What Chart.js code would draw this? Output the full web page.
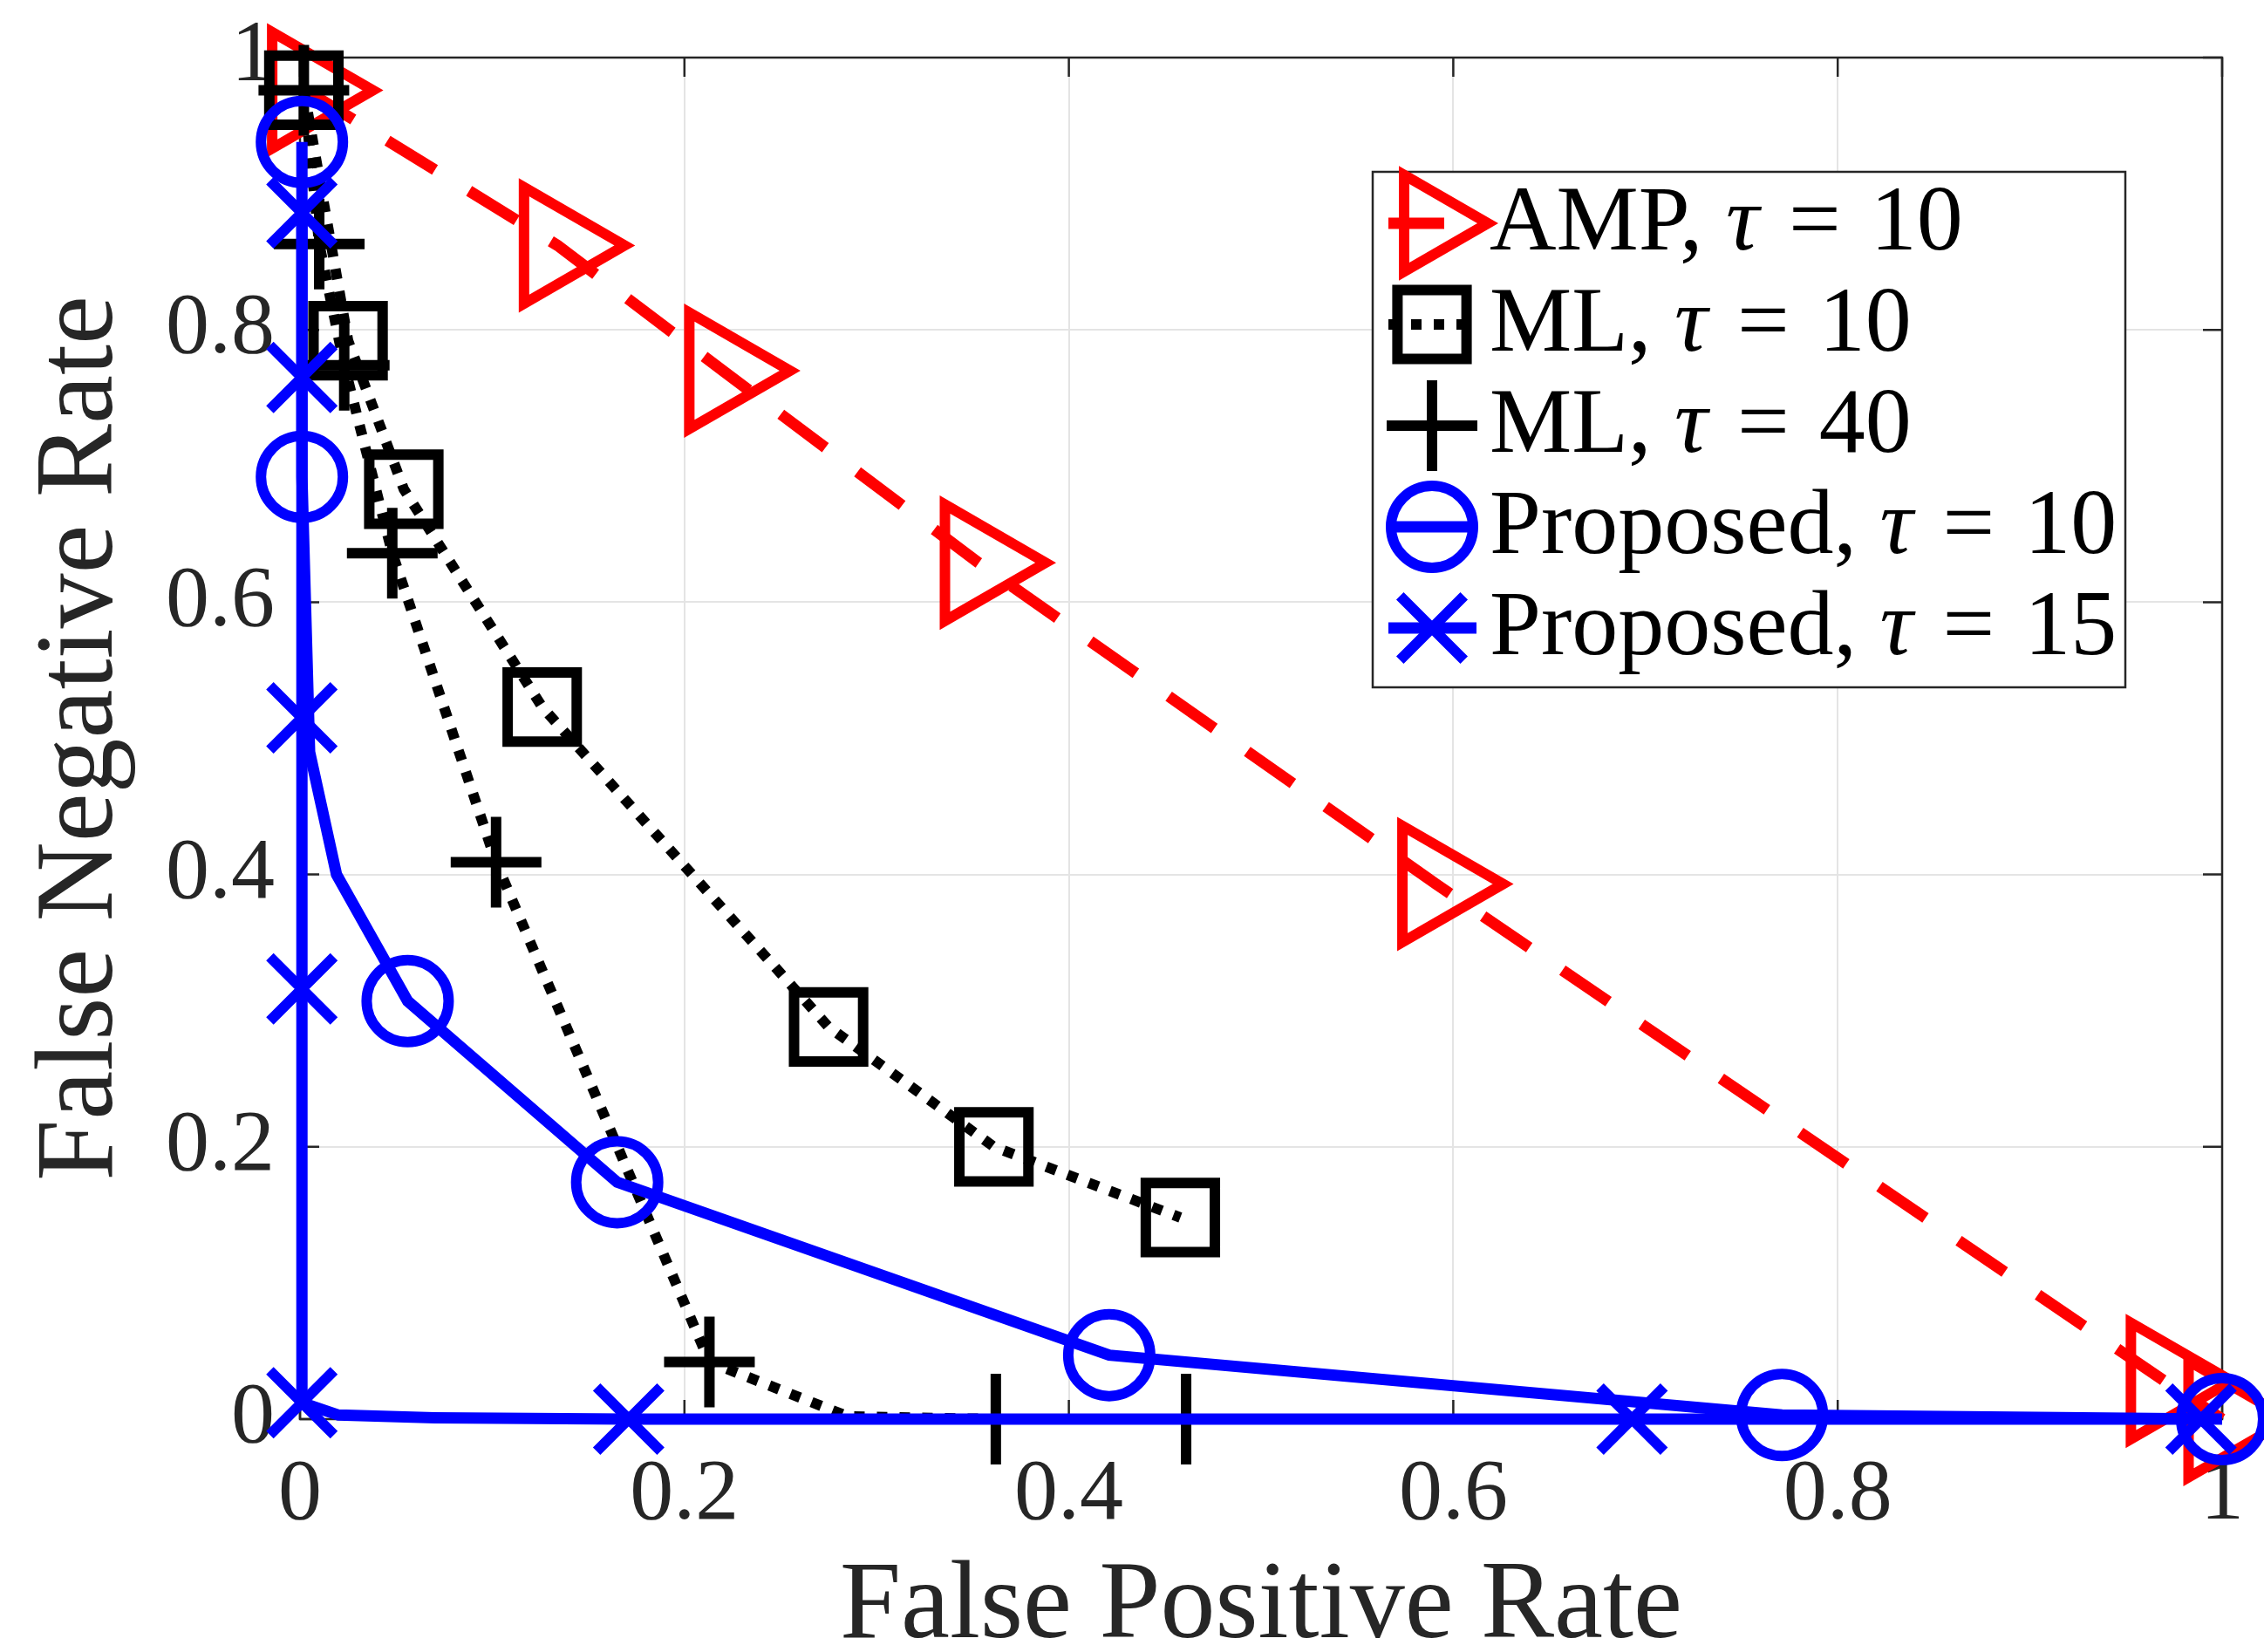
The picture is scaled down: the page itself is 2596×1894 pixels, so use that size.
<!DOCTYPE html>
<html>
<head>
<meta charset="utf-8">
<script src="https://cdn.jsdelivr.net/npm/chart.js@4/dist/chart.umd.min.js"></script>
<style>
  html, body { margin: 0; padding: 0; background: #fff; }
  canvas { display: block; }
</style>
</head>
<body>
<canvas id="rocChart" width="2596" height="1894" style="width:2596px;height:1894px"></canvas>
<script>
// values: x = false positive rate, y = false negative rate
var ampFpr = [0.003, 0.134, 0.220, 0.353, 0.591, 0.970, 1.0];
var ampFnr = [0.976, 0.862, 0.770, 0.629, 0.393, 0.028, 0.0];

var ml10Fpr = [0.002, 0.025, 0.054, 0.126, 0.275, 0.361, 0.458];
var ml10Fnr = [0.976, 0.792, 0.683, 0.523, 0.288, 0.200, 0.148];

var ml40Fpr = [0.002, 0.010, 0.023, 0.048, 0.102, 0.213, 0.285, 0.362, 0.461];
var ml40Fnr = [0.976, 0.863, 0.774, 0.636, 0.409, 0.042, 0.002, 0.0, 0.0];
var ml40Marked = [0, 1, 2, 3, 4, 5, 7, 8];

var prop10Fpr = [0.001, 0.001, 0.005, 0.019, 0.056, 0.165, 0.421, 0.771, 1.0];
var prop10Fnr = [0.938, 0.692, 0.490, 0.400, 0.307, 0.174, 0.047, 0.003, 0.0];
var prop10Marked = [0, 1, 4, 5, 6, 7, 8];

var prop15Fpr = [0.001, 0.001, 0.001, 0.001, 0.001, 0.020, 0.070, 0.171, 0.693, 0.989];
var prop15Fnr = [0.886, 0.765, 0.515, 0.316, 0.012, 0.003, 0.001, 0.0, 0.0, 0.0];
var prop15Marked = [0, 1, 2, 3, 4, 7, 8, 9];

var seriesNames = ['AMP', 'ML', 'ML', 'Proposed', 'Proposed'];
var seriesTau = [10, 10, 40, 10, 15];

var xTickLabels = ['0', '0.2', '0.4', '0.6', '0.8', '1'];
var yTickLabels = ['0', '0.2', '0.4', '0.6', '0.8', '1'];

var FONT = '"Liberation Serif", "Times New Roman", serif';
var CLEAR = 'rgba(0,0,0,0)';

function toPoints(xs, ys) {
  return xs.map(function (x, i) { return { x: x, y: ys[i] }; });
}

function markedRadius(list, r) {
  return function (c) {
    if (!list) return r;
    return list.indexOf(c.dataIndex) >= 0 ? r : 0;
  };
}

// keep the plot box where the figure has it, labels may hang out
function noOverhang(scale) {
  scale.paddingTop = 0;
  scale.paddingBottom = 0;
  scale.paddingLeft = 0;
  scale.paddingRight = 0;
}

// matlab style box with inward ticks
var axesBox = {
  id: 'axesBox',
  beforeDatasetsDraw: function (chart) {
    var a = chart.chartArea, ctx = chart.ctx;
    var xs = chart.scales.x, ys = chart.scales.y;
    ctx.save();
    ctx.strokeStyle = '#262626';
    ctx.lineWidth = 2.5;
    ctx.strokeRect(a.left, a.top, a.right - a.left, a.bottom - a.top);
    ctx.beginPath();
    xs.ticks.forEach(function (t) {
      var p = xs.getPixelForValue(t.value);
      ctx.moveTo(p, a.bottom); ctx.lineTo(p, a.bottom - 22);
      ctx.moveTo(p, a.top); ctx.lineTo(p, a.top + 22);
    });
    ys.ticks.forEach(function (t) {
      var p = ys.getPixelForValue(t.value);
      ctx.moveTo(a.left, p); ctx.lineTo(a.left + 22, p);
      ctx.moveTo(a.right, p); ctx.lineTo(a.right - 22, p);
    });
    ctx.stroke();
    ctx.restore();
  }
};

var boxLegend = {
  id: 'boxLegend',
  afterDraw: function (chart) {
    var ctx = chart.ctx;
    var left = 1574, top = 197, w = 863, h = 591;
    ctx.save();
    ctx.fillStyle = '#fff';
    ctx.fillRect(left, top, w, h);
    ctx.strokeStyle = '#262626';
    ctx.lineWidth = 2.5;
    ctx.strokeRect(left, top, w, h);

    chart.data.datasets.forEach(function (ds, i) {
      var y = 256 + i * 116;
      var mx = 1642;
      ctx.setLineDash(ds.borderDash || []);
      ctx.lineDashOffset = 0;
      ctx.strokeStyle = ds.borderColor;
      ctx.lineWidth = ds.borderWidth;
      ctx.lineCap = 'butt';
      ctx.beginPath();
      ctx.moveTo(1592, y);
      ctx.lineTo(1693, y);
      ctx.stroke();

      ctx.setLineDash([]);
      ctx.lineWidth = ds.pointBorderWidth;
      ctx.fillStyle = CLEAR;
      Chart.helpers.drawPoint(ctx, {
        pointStyle: ds.pointStyle,
        rotation: ds.pointRotation || 0,
        radius: ds.legendRadius,
        borderWidth: ds.pointBorderWidth
      }, mx, y);

      var tx = 1708, ty = y + 30;
      ctx.fillStyle = '#000';
      ctx.textBaseline = 'alphabetic';
      ctx.textAlign = 'left';
      ctx.font = '106px ' + FONT;
      var s1 = seriesNames[i] + ', ';
      ctx.fillText(s1, tx, ty);
      tx += ctx.measureText(s1).width;
      ctx.font = 'italic 106px ' + FONT;
      ctx.fillText('\u03c4', tx, ty);
      tx += ctx.measureText('\u03c4').width + 34;
      ctx.font = '106px ' + FONT;
      ctx.fillText('=', tx, ty);
      tx += ctx.measureText('=').width + 34;
      ctx.fillText(String(seriesTau[i]), tx, ty);
    });
    ctx.restore();
  }
};

var ctx = document.getElementById('rocChart');
var rocChart = new Chart(ctx, {
  type: 'line',
  data: {
    datasets: [{
      label: 'AMP, tau = 10',
      data: toPoints(ampFpr, ampFnr),
      borderColor: '#ff0000',
      borderWidth: 13,
      borderDash: [64, 46],
      pointStyle: 'triangle',
      pointRotation: 90,
      pointRadius: markedRadius(null, 77),
      legendRadius: 64,
      pointBorderWidth: 12,
      pointBorderColor: '#ff0000',
      pointBackgroundColor: CLEAR,
      order: 5
    }, {
      label: 'ML, tau = 10',
      data: toPoints(ml10Fpr, ml10Fnr),
      borderColor: '#000000',
      borderWidth: 12,
      borderDash: [12, 14],
      pointStyle: 'rect',
      pointRadius: markedRadius(null, 56),
      legendRadius: 56,
      pointBorderWidth: 12,
      pointBorderColor: '#000000',
      pointBackgroundColor: CLEAR,
      order: 4
    }, {
      label: 'ML, tau = 40',
      data: toPoints(ml40Fpr, ml40Fnr),
      borderColor: '#000000',
      borderWidth: 12,
      borderDash: [12, 14],
      pointStyle: 'cross',
      pointRadius: markedRadius(ml40Marked, 52),
      legendRadius: 52,
      pointBorderWidth: 12,
      pointBorderColor: '#000000',
      pointBackgroundColor: CLEAR,
      order: 3
    }, {
      label: 'Proposed, tau = 10',
      data: toPoints(prop10Fpr, prop10Fnr),
      borderColor: '#0000ff',
      borderWidth: 13,
      pointStyle: 'circle',
      pointRadius: markedRadius(prop10Marked, 47),
      legendRadius: 47,
      pointBorderWidth: 12,
      pointBorderColor: '#0000ff',
      pointBackgroundColor: CLEAR,
      order: 2
    }, {
      label: 'Proposed, tau = 15',
      data: toPoints(prop15Fpr, prop15Fnr),
      borderColor: '#0000ff',
      borderWidth: 13,
      pointStyle: 'crossRot',
      pointRadius: markedRadius(prop15Marked, 52),
      legendRadius: 52,
      pointBorderWidth: 12,
      pointBorderColor: '#0000ff',
      pointBackgroundColor: CLEAR,
      order: 1
    }].map(function (d) {
      d.fill = false;
      d.tension = 0;
      d.clip = false;
      d.pointHoverRadius = d.pointRadius;
      return d;
    })
  },
  options: {
    responsive: false,
    animation: false,
    devicePixelRatio: 1,
    events: [],
    layout: { autoPadding: false, padding: { left: 0, right: 48, top: 66, bottom: 0 } },
    plugins: {
      legend: { display: false },
      tooltip: { enabled: false }
    },
    scales: {
      x: {
        type: 'linear',
        min: 0,
        max: 1,
        border: { display: false },
        grid: { color: '#e4e4e4', lineWidth: 2, drawTicks: false },
        ticks: {
          stepSize: 0.2,
          autoSkip: false,
          maxRotation: 0,
          padding: 28,
          color: '#262626',
          font: { family: FONT, size: 100 },
          callback: function (v, i) { return xTickLabels[i]; }
        },
        title: {
          display: true,
          text: 'False Positive Rate',
          color: '#262626',
          padding: 0,
          font: { family: FONT, size: 126, lineHeight: 0.8 }
        },
        afterFit: function (scale) { scale.height = 267; noOverhang(scale); }
      },
      y: {
        type: 'linear',
        min: 0,
        max: 1,
        border: { display: false },
        grid: { color: '#e4e4e4', lineWidth: 2, drawTicks: false },
        ticks: {
          stepSize: 0.2,
          autoSkip: false,
          padding: 29,
          color: '#262626',
          font: { family: FONT, size: 100 },
          callback: function (v, i) { return yTickLabels[i]; }
        },
        title: {
          display: true,
          text: 'False Negative Rate',
          color: '#262626',
          padding: 0,
          font: { family: FONT, size: 126, lineHeight: 1.5 }
        },
        afterFit: function (scale) { scale.width = 344; noOverhang(scale); }
      }
    }
  },
  plugins: [axesBox, boxLegend]
});
</script>
</body>
</html>
